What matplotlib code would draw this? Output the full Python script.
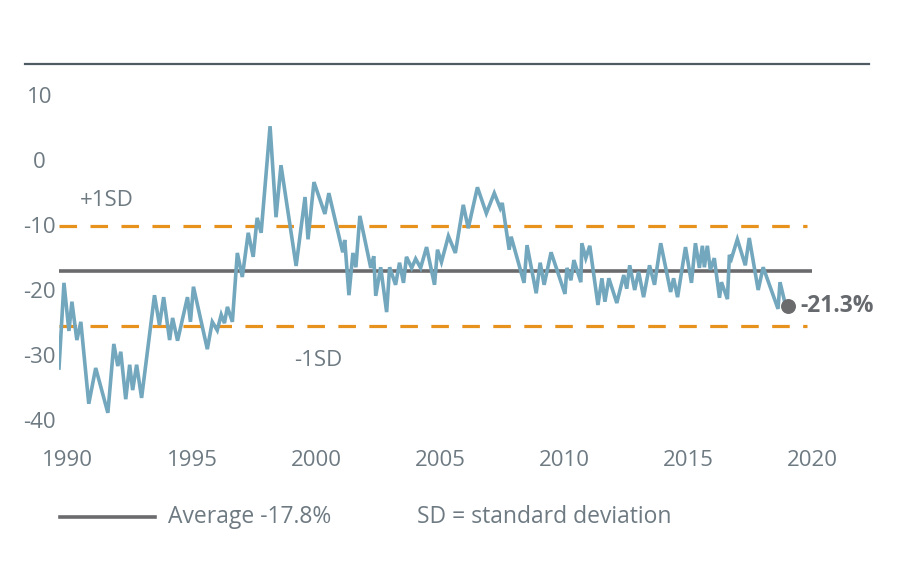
# -*- coding: utf-8 -*-
"""
Valuation gap chart: quarterly series vs. average and +/-1 SD bands
"""

# %% Load libraries
import matplotlib
matplotlib.use('Agg')
import matplotlib.pyplot as plt
from matplotlib.lines import Line2D

# %% Setup
plt.rcParams['font.family'] = ['Open Sans', 'DejaVu Sans']
plt.rcParams['axes.unicode_minus'] = False
txt_col = '#6e7a82'
blue = '#72a7bd'
orange = '#e8921e'
grey = '#6b6b6d'

# %% Data
years = [1989.64, 1989.84, 1990.04, 1990.16, 1990.36, 1990.52, 1990.84, 1991.12,
         1991.61, 1991.85, 1992.01, 1992.13, 1992.33, 1992.49, 1992.61, 1992.77,
         1992.97, 1993.49, 1993.69, 1993.86, 1994.10, 1994.22, 1994.42, 1994.82,
         1994.94, 1995.06, 1995.62, 1995.82, 1996.02, 1996.18, 1996.31, 1996.43,
         1996.63, 1996.83, 1997.03, 1997.27, 1997.47, 1997.63, 1997.79, 1998.15,
         1998.39, 1998.59, 1999.20, 1999.56, 1999.68, 1999.92, 2000.36, 2000.52,
         2001.08, 2001.16, 2001.33, 2001.49, 2001.61, 2001.77, 2002.21, 2002.33,
         2002.41, 2002.61, 2002.85, 2002.97, 2003.21, 2003.37, 2003.53, 2003.65,
         2003.86, 2004.02, 2004.22, 2004.46, 2004.78, 2004.90, 2005.06, 2005.34,
         2005.62, 2005.94, 2006.14, 2006.51, 2006.87, 2007.19, 2007.43, 2007.51,
         2007.79, 2007.87, 2008.39, 2008.51, 2008.88, 2009.04, 2009.20, 2009.48,
         2010.04, 2010.12, 2010.28, 2010.40, 2010.68, 2010.72, 2010.88, 2011.04,
         2011.37, 2011.53, 2011.65, 2011.81, 2012.13, 2012.41, 2012.53, 2012.65,
         2012.85, 2013.01, 2013.21, 2013.45, 2013.65, 2013.90, 2014.30, 2014.42,
         2014.58, 2014.90, 2015.14, 2015.30, 2015.46, 2015.58, 2015.66, 2015.78,
         2015.90, 2016.06, 2016.27, 2016.35, 2016.59, 2016.67, 2016.75, 2016.99,
         2017.31, 2017.47, 2017.83, 2018.03, 2018.63, 2018.71, 2018.88]
values = [-32.0, -18.9, -26.3, -21.8, -27.7, -24.9, -37.5, -32.0,
          -38.9, -28.3, -31.7, -29.5, -36.8, -31.5, -35.4, -31.5,
          -36.6, -20.8, -25.4, -21.1, -27.7, -24.3, -27.8, -21.1,
          -24.9, -19.5, -29.1, -24.9, -26.2, -23.8, -25.1, -22.6,
          -24.9, -14.3, -18.0, -11.2, -14.9, -8.9, -11.2, 5.2,
          -8.8, -0.8, -16.3, -5.7, -12.2, -3.4, -8.3, -5.1,
          -14.2, -12.3, -20.8, -14.3, -16.5, -8.6, -16.6, -14.8,
          -20.9, -16.5, -23.4, -16.5, -19.2, -15.8, -18.9, -14.9,
          -16.6, -15.2, -16.6, -13.4, -19.2, -13.8, -15.7, -11.7,
          -14.3, -6.9, -10.5, -4.2, -8.2, -5.1, -7.4, -6.6,
          -13.8, -11.8, -18.9, -13.1, -20.5, -15.8, -19.2, -14.2,
          -20.6, -16.6, -18.5, -15.4, -18.8, -12.8, -15.1, -13.2,
          -22.3, -18.2, -21.8, -18.2, -22.0, -17.7, -19.8, -16.2,
          -20.0, -17.2, -21.1, -16.2, -19.2, -12.8, -20.3, -18.2,
          -21.1, -13.4, -18.9, -12.8, -16.6, -13.2, -16.5, -13.2,
          -16.9, -15.1, -21.2, -18.8, -21.4, -14.6, -15.2, -12.2,
          -16.2, -12.0, -20.0, -16.5, -22.9, -18.8, -21.5]

average = -17.1
plus_sd = -10.15
minus_sd = -25.5
last_year, last_value = 2019.04, -22.5

x_ticks = [1990, 1995, 2000, 2005, 2010, 2015, 2020]
y_ticks = [10, 0, -10, -20, -30, -40]

# %% Figure
fig = plt.figure(figsize=(9.04, 5.75), dpi=100)
ax = fig.add_axes([59 / 904, 1 - 426.5 / 575, 753 / 904, 338 / 575])
ax.set_xlim(1989.64, 2019.88)
ax.set_ylim(-41, 11)
ax.patch.set_alpha(0)
for s in ax.spines.values():
    s.set_visible(False)

# bands and average
ax.axhline(average, color=grey, lw=2.6, zorder=2)
for lvl in (plus_sd, minus_sd):
    ax.hlines(lvl, 1989.64, 2019.8, color=orange, lw=2.3,
              linestyles=(0, (5.5, 4.2)), zorder=1)

# series
ax.plot(years, values, color=blue, lw=2.6, solid_joinstyle='miter', zorder=3)
ax.scatter([last_year], [last_value], s=95, color=grey, zorder=4,
           clip_on=False)

# annotations
ax.text(1990.48, -6.3, '+1SD', color=txt_col, fontsize=16, va='center')
ax.text(1999.12, -30.9, '-1SD', color=txt_col, fontsize=16, va='center')
ax.text(2019.52, -22.5, '-21.3%', color='#66696d', fontsize=16.5,
        fontweight='bold', va='center', clip_on=False)

# ticks
ax.set_xticks(x_ticks)
ax.set_yticks(y_ticks)
ax.tick_params(length=0, labelsize=16, labelcolor=txt_col)
ax.tick_params(axis='x', pad=17)
ax.tick_params(axis='y', pad=14)
for lab in ax.get_yticklabels():
    lab.set_horizontalalignment('center')

# top rule
fig.add_artist(Line2D([25 / 904, 869 / 904], [1 - 64 / 575, 1 - 64 / 575],
                      color='#4f5b63', lw=1.6))

# legend
ly = 1 - 517 / 575
fig.add_artist(Line2D([60 / 904, 155 / 904], [ly, ly], color=grey, lw=2.6))
fig.text(168 / 904, ly, 'Average -17.8%', color=txt_col, fontsize=16.5,
         va='center')
fig.text(417 / 904, ly, 'SD = standard deviation', color=txt_col,
         fontsize=16.5, va='center')

fig.savefig('out.png', dpi=100)
